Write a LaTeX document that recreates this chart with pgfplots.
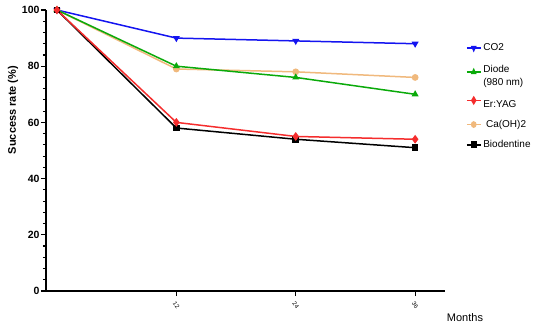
\documentclass[border=0pt]{standalone}
\usepackage{pgfplots}
\pgfplotsset{compat=1.18}
\usepackage{fontspec}
\setmainfont{Liberation Sans}
\definecolor{cblue}{RGB}{20,20,240}
\definecolor{cgreen}{RGB}{10,170,10}
\definecolor{cred}{RGB}{245,45,45}
\definecolor{corange}{RGB}{240,185,125}
\begin{document}
\begin{tikzpicture}[x=1pt,y=1pt]
\useasboundingbox (0,0) rectangle (550,330);
\begin{axis}[
  at={(46pt,39pt)}, anchor=south west,
  scale only axis, width=399pt, height=281pt,
  xmin=-1.1, xmax=39, ymin=0, ymax=100,
  axis lines=left, axis line style={-, line width=1.3pt},
  xtick={12,24,36}, ytick={0,20,40,60,80,100},
  minor y tick num=4,
  tick style={black, line width=1.1pt},
  major tick length=5pt, minor tick length=3pt,
  tick align=outside,
  yticklabel style={font=\fontsize{10.5}{12}\selectfont\bfseries, xshift=2pt},
  xticklabel style={font=\fontsize{6}{7}\selectfont, rotate=-55, anchor=center},
  xticklabel shift=9pt,
  /pgf/number format/assume math mode=true,
  ylabel={\textbf{Success rate (\%)}},
  ylabel style={font=\fontsize{11}{13}\selectfont, at={(ticklabel cs:0.644)}, yshift=-3pt},
  legend style={draw=none, fill=none, at={(1.045,0.895)}, anchor=north west,
    font=\fontsize{10}{13}\selectfont, row sep=7.5pt, legend cell align=left},
  legend image post style={xscale=0.8},
  every axis plot/.append style={line width=1.5pt},
  clip=false,
]
\addplot[color=cblue, mark=triangle*, mark options={rotate=180, scale=1.3}] coordinates {(0,100) (12,90) (24,89) (36,88)};
\addlegendentry{CO2}
\addplot[color=corange, mark=*, mark size=2.6pt, forget plot] coordinates {(0,100) (12,79) (24,78) (36,76)};
\addplot[color=cgreen, mark=triangle*, mark options={scale=1.3}] coordinates {(0,100) (12,80) (24,76) (36,70)};
\addlegendentry{\begin{tabular}{@{}l@{}}Diode\\(980 nm)\end{tabular}}
\addplot[color=black, mark=square*, mark size=2.6pt, forget plot] coordinates {(0,100) (12,58) (24,54) (36,51)};
\addplot[color=cred, mark=diamond*, mark size=3.2pt] coordinates {(0,100) (12,60) (24,55) (36,54)};
\addlegendentry{\rule{0pt}{15pt}Er:YAG}
\addlegendimage{color=corange, mark=*, mark size=2.6pt, line width=1.5pt}
\addlegendentry{\ Ca(OH)2}
\addlegendimage{color=black, mark=square*, mark size=2.6pt, line width=1.5pt}
\addlegendentry{Biodentine}
\end{axis}
\node[font=\fontsize{11}{13}\selectfont, anchor=center] at (465,12) {Months};
\end{tikzpicture}
\end{document}
